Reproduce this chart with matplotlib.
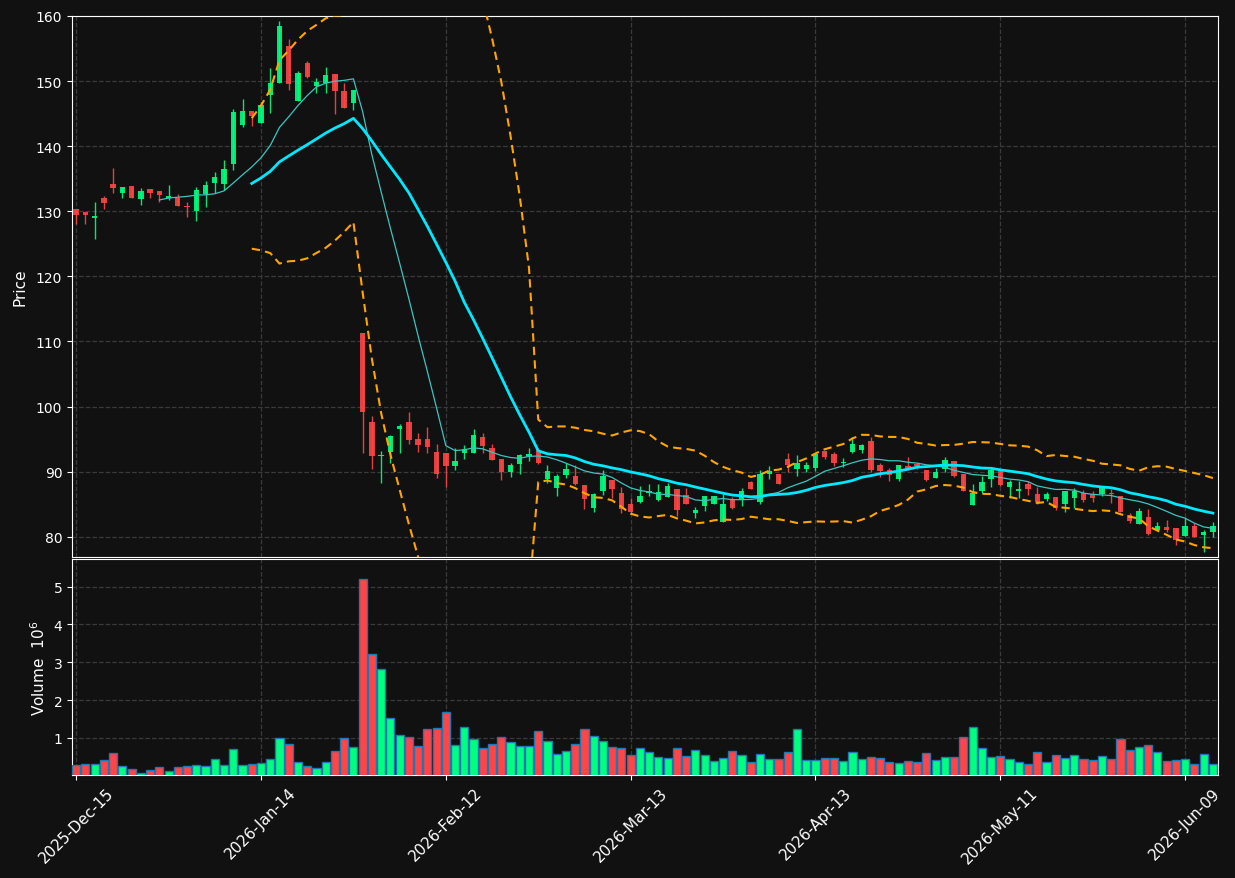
import numpy as np
import pandas as pd
import matplotlib
matplotlib.use("Agg")
import matplotlib.pyplot as plt

# daily OHLC (price) and volume (millions), one entry per trading day
opens = [130.3, 129.9, 128.9, 132.0, 134.2, 132.8, 133.9, 131.9, 133.4, 133.1,
         132.1, 132.1, 130.75, 130.1, 132.6, 134.4, 134.2, 137.3, 143.2, 145.4,
         143.5, 147.8, 149.7, 155.4, 146.9, 152.7, 149.2, 149.7, 151.1, 148.5,
         146.6, 111.3, 97.6, 92.4, 93.0, 96.6, 97.6, 95.0, 95.0, 93.0,
         92.8, 90.9, 92.9, 92.9, 95.4, 93.7, 91.9, 89.9, 91.2, 92.4,
         93.3, 88.9, 87.5, 89.5, 89.3, 87.9, 84.5, 87.1, 88.8, 86.8,
         85.1, 85.4, 86.7, 85.6, 86.05, 87.3, 86.4, 83.6, 84.7, 85.0,
         82.3, 85.6, 85.6, 88.4, 85.3, 89.6, 89.7, 91.9, 90.4, 90.4,
         90.6, 93.2, 92.7, 91.4, 93.0, 93.3, 94.7, 91.0, 90.3, 88.9,
         90.8, 91.2, 90.3, 89.0, 90.4, 91.6, 89.6, 84.9, 87.0, 88.9,
         90.1, 87.6, 87.1, 88.05, 86.5, 85.8, 86.05, 85.0, 85.9, 86.8,
         86.5, 86.6, 86.7, 86.2, 83.4, 81.9, 83.1, 81.0, 81.5, 81.3,
         80.1, 81.6, 80.3, 80.7]
highs = [130.3, 129.9, 131.5, 132.4, 136.7, 133.7, 133.9, 133.6, 133.4, 133.1,
         134.0, 132.6, 131.5, 133.8, 134.6, 136.1, 137.9, 145.7, 147.3, 145.4,
         146.8, 152.0, 159.2, 156.4, 151.5, 153.1, 150.5, 152.2, 151.1, 149.7,
         148.7, 111.3, 98.5, 93.2, 95.6, 97.3, 99.2, 96.0, 96.8, 94.3,
         92.8, 93.7, 94.1, 96.6, 96.0, 94.3, 91.9, 91.3, 92.7, 93.7,
         93.6, 91.0, 89.7, 91.4, 91.0, 87.9, 86.8, 90.2, 88.8, 87.6,
         85.9, 87.8, 88.1, 88.1, 88.3, 87.3, 87.5, 84.6, 86.3, 86.2,
         86.6, 86.1, 87.5, 88.6, 90.3, 90.8, 89.7, 92.9, 92.6, 91.5,
         92.7, 93.2, 93.0, 92.05, 95.3, 94.2, 95.3, 91.4, 90.5, 91.1,
         92.2, 91.4, 90.3, 90.6, 92.2, 91.7, 89.6, 88.1, 89.3, 90.5,
         90.2, 88.7, 88.6, 88.5, 87.6, 86.9, 86.05, 87.1, 87.5, 87.2,
         87.0, 87.5, 87.3, 86.2, 83.7, 84.4, 84.2, 82.2, 82.6, 81.3,
         82.9, 82.05, 81.0, 82.2]
lows = [128.0, 128.0, 125.8, 130.3, 132.8, 132.0, 132.0, 131.0, 132.0, 131.5,
        131.8, 130.8, 129.1, 128.5, 130.7, 132.8, 133.3, 136.3, 142.9, 143.1,
        143.5, 145.1, 149.7, 148.7, 146.9, 150.4, 148.2, 148.2, 144.9, 145.8,
        145.5, 92.9, 90.4, 88.2, 91.4, 92.9, 94.3, 93.1, 92.9, 89.1,
        87.7, 90.2, 92.0, 92.9, 92.8, 91.8, 88.7, 89.2, 89.7, 91.7,
        91.2, 88.2, 86.3, 89.1, 87.9, 84.3, 83.8, 86.4, 85.9, 83.7,
        83.6, 85.2, 86.3, 85.5, 86.05, 83.2, 85.1, 82.9, 84.0, 85.0,
        82.3, 84.2, 84.8, 87.3, 85.0, 88.9, 88.1, 90.0, 89.4, 89.9,
        90.1, 91.9, 90.9, 90.7, 92.8, 92.9, 90.0, 89.2, 88.5, 88.5,
        90.3, 90.4, 88.5, 89.0, 90.0, 89.2, 87.0, 84.9, 86.7, 87.6,
        87.8, 85.9, 85.9, 86.4, 85.1, 85.5, 84.1, 83.8, 84.5, 85.4,
        85.4, 86.3, 85.2, 83.8, 82.05, 81.9, 80.3, 81.0, 80.7, 78.7,
        80.1, 79.9, 77.6, 80.0]
closes = [129.5, 129.5, 129.3, 131.3, 133.6, 133.7, 132.1, 133.1, 132.8, 132.5,
          132.4, 130.8, 130.6, 133.3, 134.0, 135.3, 136.5, 145.2, 145.4, 144.6,
          146.4, 149.7, 158.5, 149.5, 151.3, 150.6, 149.8, 151.0, 148.4, 145.9,
          148.7, 99.2, 92.4, 92.6, 95.5, 97.0, 94.9, 94.1, 93.8, 89.6,
          90.9, 91.7, 93.5, 95.7, 93.9, 91.8, 89.9, 91.0, 92.5, 92.7,
          91.4, 90.1, 89.4, 90.4, 88.1, 85.8, 86.6, 89.3, 87.3, 84.3,
          83.8, 86.2, 87.1, 86.9, 87.8, 84.1, 85.1, 84.05, 86.2, 86.2,
          85.1, 84.5, 87.1, 87.3, 89.6, 90.1, 88.1, 91.1, 91.4, 91.1,
          92.7, 92.2, 91.3, 91.5, 94.2, 94.05, 90.2, 90.05, 89.5, 91.1,
          90.4, 90.9, 88.7, 90.0, 91.85, 89.4, 87.0, 86.8, 88.4, 90.2,
          87.9, 88.4, 87.4, 87.4, 85.3, 86.5, 84.4, 87.1, 87.0, 85.7,
          86.0, 87.5, 86.5, 83.8, 82.4, 84.0, 80.5, 81.6, 81.1, 79.5,
          81.7, 79.9, 80.7, 81.6]
volumes = [0.28, 0.32, 0.32, 0.42, 0.61, 0.26, 0.18, 0.07, 0.16, 0.24,
           0.13, 0.24, 0.26, 0.29, 0.26, 0.45, 0.29, 0.71, 0.29, 0.32,
           0.34, 0.45, 1.00, 0.84, 0.37, 0.26, 0.21, 0.37, 0.66, 1.00,
           0.76, 5.21, 3.23, 2.82, 1.53, 1.08, 1.03, 0.79, 1.24, 1.26,
           1.68, 0.82, 1.29, 0.97, 0.74, 0.84, 1.03, 0.89, 0.79, 0.79,
           1.18, 0.92, 0.58, 0.66, 0.84, 1.24, 1.05, 0.92, 0.76, 0.74,
           0.55, 0.74, 0.63, 0.50, 0.47, 0.74, 0.53, 0.68, 0.55, 0.39,
           0.47, 0.66, 0.55, 0.37, 0.58, 0.45, 0.45, 0.63, 1.24, 0.42,
           0.42, 0.47, 0.47, 0.39, 0.63, 0.45, 0.50, 0.47, 0.37, 0.34,
           0.39, 0.37, 0.61, 0.42, 0.50, 0.50, 1.03, 1.29, 0.74, 0.50,
           0.53, 0.45, 0.37, 0.32, 0.63, 0.37, 0.55, 0.47, 0.55, 0.45,
           0.42, 0.53, 0.45, 0.97, 0.68, 0.76, 0.82, 0.63, 0.39, 0.42,
           0.45, 0.32, 0.58, 0.32]

holidays = ["2025-12-25", "2026-01-01", "2026-01-19", "2026-02-16",
            "2026-04-03", "2026-05-25"]
dates = pd.bdate_range("2025-12-15", periods=len(closes), freq="C", holidays=holidays)

df = pd.DataFrame({"Open": opens, "High": highs, "Low": lows,
                   "Close": closes, "Volume": volumes}, index=dates)
df["ma10"] = df["Close"].rolling(10).mean()
df["ma20"] = df["Close"].rolling(20).mean()
std20 = df["Close"].rolling(20).std()
df["bb_up"] = df["ma20"] + 2 * std20
df["bb_lo"] = df["ma20"] - 2 * std20

bg = "#111111"
up_col = "#00ff80"
down_col = "#ff4545"

fig = plt.figure(figsize=(12.35, 8.79), dpi=100, facecolor=bg)
ax = fig.add_axes([0.0583, 0.3652, 0.9279, 0.6155])
axv = fig.add_axes([0.0583, 0.1172, 0.9279, 0.2457], sharex=ax)

x = np.arange(len(df))
is_up = df["Close"].values >= df["Open"].values
cols = [up_col if u else down_col for u in is_up]

# candles
ax.vlines(x, df["Low"], df["High"], colors=cols, linewidth=1.0, alpha=0.9, zorder=3)
body_lo = np.minimum(df["Open"], df["Close"])
body_h = np.maximum(np.abs(df["Close"] - df["Open"]), 0.12)
ax.bar(x, body_h, bottom=body_lo, width=0.58, color=cols, alpha=0.9, zorder=4)

ax.plot(x, df["ma10"], color="#3cc4c0", linewidth=0.9, zorder=5)
ax.plot(x, df["ma20"], color="#00e8ff", linewidth=2.0, zorder=5)
ax.plot(x, df["bb_up"], color="#ffa500", linewidth=1.5, linestyle=(0, (4, 2.5)), zorder=5)
ax.plot(x, df["bb_lo"], color="#ffa500", linewidth=1.5, linestyle=(0, (4, 2.5)), zorder=5)

# volume
axv.bar(x, df["Volume"], width=0.88, color=cols, edgecolor="#1f77b4", linewidth=1.0, zorder=3)

for a in (ax, axv):
    a.set_facecolor(bg)
    for s in a.spines.values():
        s.set_color("white")
    a.tick_params(colors="white", labelcolor="white", labelsize=10)
    a.grid(True, color="#3a3a3a", linestyle="--", linewidth=0.9)
    a.set_axisbelow(True)

ax.set_xlim(-0.45, len(df) - 0.45)
ax.set_ylim(76.9, 160)
ax.set_yticks(np.arange(80, 161, 10))
ax.set_ylabel("Price", color="white", fontsize=11, labelpad=6)
ax.tick_params(axis="x", which="both", bottom=False, labelbottom=False)

axv.set_ylim(0.3 * min(volumes), 1.1 * max(volumes))
axv.set_yticks([1, 2, 3, 4, 5])
axv.set_ylabel("Volume  $10^6$", color="white", fontsize=11)

tick_idx = list(range(0, len(df), 20))
axv.set_xticks(tick_idx)
axv.set_xticklabels([dates[i].strftime("%Y-%b-%d") for i in tick_idx], rotation=45, fontsize=11)

fig.savefig("out.png", dpi=100, facecolor=bg)
